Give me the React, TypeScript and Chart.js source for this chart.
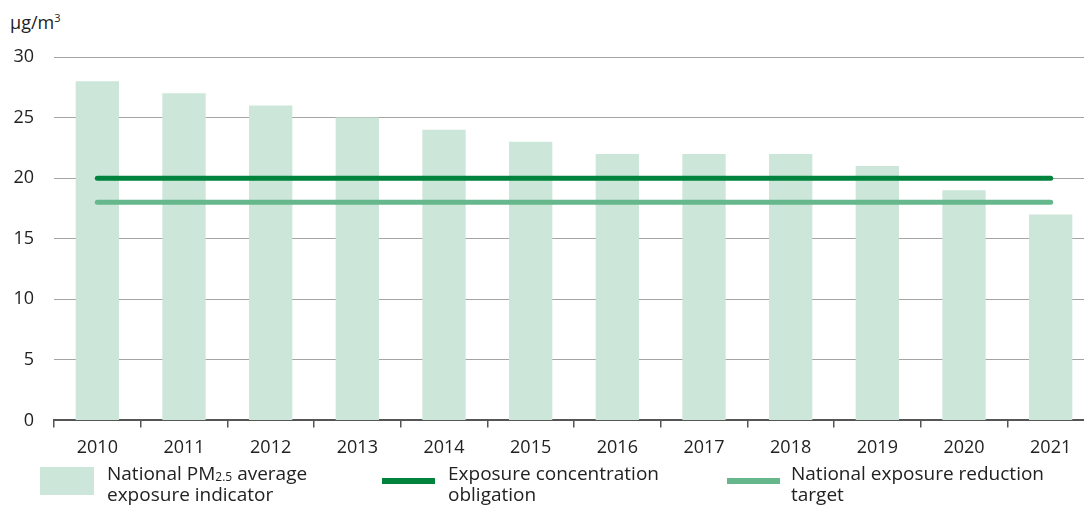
import React, { useEffect, useRef } from "react";
import { Chart, registerables } from "chart.js";

Chart.register(...registerables);

const years = ["2010", "2011", "2012", "2013", "2014", "2015", "2016", "2017", "2018", "2019", "2020", "2021"];
const pmIndicator = [28, 27, 26, 25, 24, 23, 22, 22, 22, 21, 19, 17];
const obligation = [20, 20, 20, 20, 20, 20, 20, 20, 20, 20, 20, 20];
const reductionTarget = [18, 18, 18, 18, 18, 18, 18, 18, 18, 18, 18, 18];
const yTicks = [0, 5, 10, 15, 20, 25, 30];

const FONT = "'Open Sans', 'Noto Sans', sans-serif";
const BAR_COLOR = "#cde6da";
const DARK = "#00843d";
const LIGHT = "#66b88c";

export default function App() {
  const ref = useRef<HTMLCanvasElement | null>(null);

  useEffect(() => {
    document.body.style.margin = "0";
    const ctx = ref.current!;
    const chart = new Chart(ctx, {
      type: "bar",
      data: {
        labels: years,
        datasets: [
          {
            type: "line",
            label: "Exposure concentration obligation",
            data: obligation,
            borderColor: DARK,
            borderWidth: 5,
            borderCapStyle: "round",
            pointRadius: 0,
            order: 1,
          } as any,
          {
            type: "line",
            label: "National exposure reduction target",
            data: reductionTarget,
            borderColor: LIGHT,
            borderWidth: 5,
            borderCapStyle: "round",
            pointRadius: 0,
            order: 1,
          } as any,
          {
            type: "bar",
            label: "National PM2.5 average exposure indicator",
            data: pmIndicator,
            backgroundColor: BAR_COLOR,
            categoryPercentage: 1,
            barPercentage: 0.5,
            order: 2,
          },
        ],
      },
      options: {
        animation: false,
        responsive: false,
        maintainAspectRatio: false,
        layout: { padding: { top: 57, right: 0, left: 0, bottom: 0 } },
        plugins: { legend: { display: false }, tooltip: { enabled: false } },
        scales: {
          x: {
            offset: true,
            grid: {
              display: true,
              drawOnChartArea: false,
              offset: true,
              tickLength: 7,
              color: "#555",
              lineWidth: 1.5,
            },
            border: { display: true, color: "#555", width: 2 },
            ticks: {
              color: "#222",
              font: { family: FONT, size: 18 },
              padding: 10,
            },
          },
          y: {
            min: 0,
            max: 30,
            afterBuildTicks: (axis: any) => {
              axis.ticks = yTicks.map((v) => ({ value: v }));
            },
            afterFit: (axis: any) => {
              axis.width = 54;
            },
            grid: { color: "#a4a4a4", lineWidth: 1, drawTicks: false },
            border: { display: false },
            ticks: {
              color: "#222",
              font: { family: FONT, size: 18 },
              padding: 20,
            },
          },
        },
      },
    });
    return () => chart.destroy();
  }, []);

  const textStyle: React.CSSProperties = {
    position: "absolute",
    fontFamily: FONT,
    fontSize: 19,
    lineHeight: "21px",
    color: "#222",
    whiteSpace: "nowrap",
  };

  return (
    <div style={{ position: "relative", width: 1084, height: 507, background: "#fff", overflow: "hidden" }}>
      <div style={{ ...textStyle, fontSize: 18, left: 10, top: 12 }}>
        µg/m<sup style={{ fontSize: 11, verticalAlign: "7px", lineHeight: 0 }}>3</sup>
      </div>
      <canvas ref={ref} width={1094} height={469} style={{ position: "absolute", left: 0, top: 0 }} />
      <div style={{ position: "absolute", left: 40, top: 467, width: 54, height: 28, background: BAR_COLOR }} />
      <div style={{ ...textStyle, left: 107, top: 463 }}>
        National PM<sub style={{ fontSize: 12, verticalAlign: "-1px", lineHeight: 0 }}>2.5</sub> average
        <br />
        exposure indicator
      </div>
      <div style={{ position: "absolute", left: 382, top: 478, width: 53, height: 6, background: DARK }} />
      <div style={{ ...textStyle, left: 448, top: 463 }}>
        Exposure concentration
        <br />
        obligation
      </div>
      <div style={{ position: "absolute", left: 727, top: 478, width: 53, height: 6, background: LIGHT }} />
      <div style={{ ...textStyle, left: 791, top: 463 }}>
        National exposure reduction
        <br />
        target
      </div>
    </div>
  );
}
